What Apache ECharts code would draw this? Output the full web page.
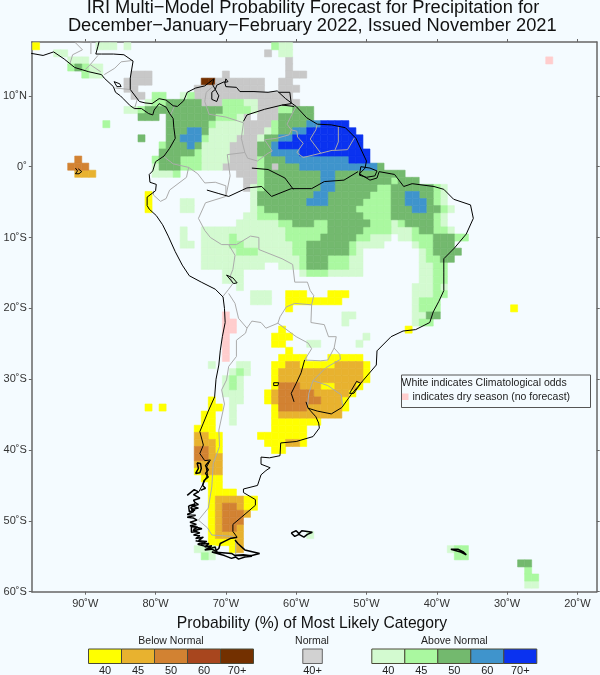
<!DOCTYPE html>
<html>
<head>
<meta charset="utf-8">
<style>
  html, body { margin: 0; padding: 0; background: #f4fbff; }
  #chart { width: 600px; height: 675px; }
</style>
<script src="https://cdn.jsdelivr.net/npm/echarts@6/dist/echarts.min.js"></script>
</head>
<body>
<div id="chart"></div>
<script>
// forecast cells, one run per row: [lat, west lon, east lon], 1 degree grid
const below40 = [[17,-97,-97],[-4,-81,-81],[-5,-81,-81],[-6,-81,-81],[-18,-61,-59],[-18,-55,-53],[-19,-61,-54],[-20,-61,-61],[-20,-29,-29],
  [-23,-62,-62],[-23,-44,-44],[-24,-63,-61],[-25,-63,-62],[-26,-61,-61],[-27,-62,-59],[-27,-55,-51],[-28,-63,-62],[-28,-59,-55],[-28,-50,-50],
  [-29,-63,-63],[-29,-50,-50],[-30,-63,-63],[-30,-50,-50],[-31,-63,-63],[-31,-56,-55],[-31,-51,-51],[-32,-64,-64],[-32,-52,-52],
  [-33,-72,-72],[-33,-64,-64],[-33,-53,-53],[-34,-81,-81],[-34,-79,-79],[-34,-72,-71],[-34,-63,-63],[-34,-53,-53],[-35,-73,-72],[-35,-63,-63],
  [-36,-73,-72],[-36,-63,-57],[-37,-74,-72],[-37,-63,-59],[-38,-72,-71],[-38,-65,-59],[-39,-71,-71],[-39,-64,-62],[-39,-59,-59],
  [-40,-71,-71],[-40,-63,-62],[-43,-74,-74],[-44,-73,-71],[-45,-72,-71],[-46,-72,-69],[-47,-72,-72],[-47,-67,-66],[-48,-72,-72],[-48,-67,-66],
  [-49,-72,-72],[-50,-72,-72],[-51,-72,-72],[-52,-72,-72],[-53,-72,-69],[-54,-69,-69]];
const below45 = [[-1,-91,-89],[-28,-61,-60],[-28,-54,-51],[-29,-62,-51],[-30,-62,-51],[-31,-59,-57],[-31,-54,-52],[-32,-63,-63],[-32,-57,-53],
  [-33,-63,-63],[-33,-56,-54],[-34,-58,-54],[-35,-62,-54],[-38,-74,-73],[-39,-74,-72],[-39,-61,-60],[-40,-72,-72],[-41,-72,-71],[-42,-74,-71],
  [-43,-73,-71],[-47,-71,-68],[-48,-71,-71],[-48,-68,-68],[-49,-71,-71],[-49,-67,-67],[-50,-71,-71],[-51,-71,-71],[-51,-68,-68],[-52,-71,-68],
  [-53,-68,-68],[-54,-68,-68]];
const below50 = [[1,-91,-91],[0,-92,-90],[-31,-62,-60],[-32,-62,-58],[-33,-62,-57],[-34,-62,-59],[-40,-74,-73],[-41,-74,-73],[-48,-70,-69],
  [-49,-70,-68],[-50,-70,-68],[-51,-70,-69]];
const below70 = [[12,-73,-72]];
const normal40 = [[16,-64,-64],[15,-61,-61],[14,-61,-61],[13,-83,-81],[13,-70,-70],[13,-61,-59],[12,-84,-81],[12,-71,-65],[12,-62,-61],
  [11,-84,-83],[11,-74,-65],[11,-62,-60],[10,-83,-82],[10,-74,-61],[9,-73,-71],[9,-65,-60],[8,-65,-63],[7,-67,-67],[7,-65,-63],[6,-67,-64],
  [5,-67,-65],[4,-68,-66],[3,-69,-66],[2,-69,-66],[1,-69,-66],[0,-70,-66],[0,-63,-63],[-1,-68,-66],[-2,-67,-66],[-3,-67,-67]];
const above40 = [[17,-88,-86],[17,-84,-84],[17,-62,-61],[16,-94,-93],[16,-62,-61],[15,-92,-90],[14,-89,-88],[13,-89,-88],[10,-76,-76],
  [9,-81,-81],[9,-67,-66],[8,-84,-83],[8,-66,-66],[7,-68,-68],[6,-71,-68],[5,-72,-68],[5,-64,-64],[4,-72,-69],[4,-65,-65],[3,-73,-70],[2,-73,-70],
  [1,-73,-70],[0,-80,-80],[0,-73,-71],[-1,-80,-78],[-3,-66,-66],[-3,-39,-39],[-4,-66,-66],[-4,-39,-39],[-5,-76,-75],[-5,-66,-66],[-5,-39,-39],
  [-6,-76,-75],[-6,-66,-66],[-6,-38,-38],[-7,-67,-66],[-7,-39,-39],[-8,-68,-63],[-8,-46,-46],[-8,-39,-39],[-9,-76,-76],[-9,-73,-62],[-9,-46,-44],[-9,-38,-38],
  [-10,-76,-76],[-10,-73,-70],[-10,-68,-62],[-10,-49,-47],[-10,-45,-44],[-11,-76,-75],[-11,-73,-70],[-11,-67,-61],[-11,-51,-48],[-11,-43,-43],
  [-12,-73,-69],[-12,-65,-61],[-12,-51,-51],[-12,-42,-42],[-13,-73,-60],[-13,-52,-51],[-13,-42,-42],[-14,-73,-65],[-14,-62,-60],[-14,-52,-51],[-14,-42,-41],
  [-15,-70,-68],[-15,-59,-59],[-15,-55,-51],[-15,-42,-41],[-16,-70,-68],[-16,-42,-41],[-17,-68,-68],[-17,-43,-41],[-17,-39,-39],[-18,-66,-64],[-18,-43,-41],
  [-19,-66,-64],[-19,-43,-43],[-20,-43,-43],[-21,-53,-52],[-21,-43,-42],[-22,-53,-53],[-22,-43,-43],[-24,-50,-50],[-25,-58,-57],[-25,-51,-51],
  [-28,-72,-72],[-28,-68,-67],[-29,-69,-69],[-29,-67,-67],[-30,-70,-70],[-30,-68,-68],[-31,-70,-70],[-31,-68,-68],[-32,-70,-68],[-33,-69,-68],
  [-34,-69,-69],[-35,-69,-69],[-36,-69,-69],[-52,-58,-58],[-54,-74,-72],[-54,-38,-38],[-55,-72,-72],[-59,-27,-26]];
const above45 = [[17,-63,-63],[14,-92,-92],[14,-90,-90],[13,-90,-90],[10,-80,-79],[10,-75,-75],[9,-80,-79],[9,-70,-68],[8,-82,-82],[8,-70,-67],[8,-62,-61],
  [7,-71,-69],[6,-87,-87],[6,-72,-72],[6,-63,-63],[5,-63,-63],[4,-73,-73],[3,-79,-79],[2,-74,-74],[1,-80,-80],[1,-76,-74],[1,-65,-65],[0,-76,-74],[0,-65,-65],
  [-1,-77,-77],[-1,-65,-65],[-2,-65,-65],[-2,-46,-46],[-3,-65,-65],[-3,-48,-47],[-3,-40,-40],[-4,-49,-47],[-4,-40,-40],[-5,-50,-47],[-5,-40,-40],
  [-6,-65,-65],[-6,-51,-47],[-6,-39,-39],[-7,-65,-63],[-7,-50,-47],[-7,-40,-40],[-8,-62,-61],[-8,-57,-56],[-8,-49,-47],[-8,-45,-45],[-8,-40,-40],
  [-9,-61,-56],[-9,-50,-47],[-9,-43,-43],[-9,-40,-39],[-10,-69,-69],[-10,-61,-57],[-10,-51,-50],[-10,-43,-41],[-10,-37,-36],[-11,-69,-68],[-11,-60,-59],[-11,-52,-52],[-11,-42,-41],
  [-12,-68,-66],[-12,-60,-59],[-12,-52,-52],[-12,-41,-41],[-13,-59,-59],[-13,-55,-53],[-13,-41,-40],[-14,-59,-59],[-14,-55,-53],[-14,-40,-39],
  [-15,-58,-56],[-15,-40,-39],[-16,-40,-39],[-17,-40,-40],[-18,-40,-39],[-19,-42,-40],[-20,-42,-40],[-22,-42,-41],[-29,-68,-68],[-30,-69,-69],[-31,-69,-69],
  [-54,-37,-36],[-55,-73,-73],[-55,-37,-36],[-57,-27,-27],[-58,-27,-26]];
const above50 = [[14,-91,-91],[9,-78,-74],[8,-81,-71],[8,-60,-58],[7,-82,-80],[7,-78,-72],[7,-62,-58],[6,-78,-73],[6,-62,-59],[5,-78,-76],[5,-73,-73],[5,-62,-61],
  [4,-82,-82],[4,-78,-77],[4,-64,-63],[3,-78,-76],[3,-74,-74],[3,-65,-64],[2,-79,-75],[2,-65,-64],[1,-79,-77],[1,-64,-62],[0,-79,-77],[0,-64,-64],[0,-62,-60],[0,-48,-48],
  [-1,-64,-57],[-1,-54,-45],[-2,-64,-57],[-2,-54,-47],[-2,-45,-43],[-3,-64,-57],[-3,-54,-49],[-3,-46,-41],[-4,-65,-58],[-4,-55,-50],[-4,-46,-45],[-4,-42,-41],
  [-5,-65,-59],[-5,-55,-51],[-5,-46,-45],[-5,-41,-41],[-6,-64,-52],[-6,-46,-44],[-6,-41,-40],[-7,-62,-51],[-7,-46,-41],[-8,-60,-58],[-8,-55,-50],[-8,-44,-41],
  [-9,-55,-51],[-9,-42,-41],[-10,-56,-52],[-10,-40,-38],[-11,-58,-53],[-11,-40,-38],[-12,-58,-53],[-12,-40,-37],[-13,-58,-56],[-13,-39,-38],[-14,-58,-56],
  [-21,-41,-40],[-56,-28,-27]];
const above60 = [[6,-58,-57],[5,-75,-74],[5,-60,-59],[4,-76,-74],[4,-62,-61],[3,-75,-75],[3,-63,-63],[2,-63,-60],[1,-61,-53],[0,-59,-49],[-1,-56,-55],[-2,-56,-55],[-3,-56,-55],
  [-4,-57,-56],[-4,-44,-43],[-5,-58,-56],[-5,-44,-42],[-6,-43,-42]];
const above70 = [[6,-56,-53],[5,-58,-52],[4,-60,-51],[3,-62,-51],[2,-59,-50],[1,-52,-50]];
const dryCells = [[15,-24,-24],[-21,-70,-70],[-22,-70,-69],[-23,-70,-69],[-24,-70,-70],[-25,-70,-70],[-26,-70,-70],[-27,-70,-70]];

const levelRuns = [below40, below45, below50, below70, normal40, above40, above45, above50, above60, above70, dryCells];
const levelColors = ['#ffff00', '#e8b22f', '#d28232', '#733000', '#c8c8c8', '#d3fad0', '#aaf8a0', '#73b96e', '#3f94cc', '#0a32f0', '#ffcdcd'];

// coast, rivers and lakes (black), lon/lat
const coastLines = [
  [[-97.7,16],[-96,15.7],[-94.5,16.2],[-93,15.2],[-91.5,14],[-89.5,13.4],[-87.7,13],[-87.3,12.5],[-86,11.3],[-85.7,10.5],[-85,10],[-84.6,9.6],[-83.6,8.6],[-83,8.2],[-82,8.2],[-81,7.5],[-80.4,7.3],[-80.2,8],[-79.5,8.9],[-78.5,8.4],[-78,7.5],[-77.5,6.8],[-77.4,5.5],[-77.2,4],[-78,2.6],[-78.8,1.5],[-80,0.7],[-80.4,-0.6],[-80.9,-1.1],[-80.8,-2.2],[-79.9,-2.5],[-80,-3.4],[-81.2,-4.3],[-81.2,-5.5],[-80.9,-6],[-79.9,-6.9],[-79,-8.2],[-78.2,-9.8],[-77.2,-12],[-76.2,-13.9],[-75.2,-15.4],[-73.5,-16.3],[-71.5,-17.3],[-70.4,-18.4],[-70.2,-20],[-70.1,-22],[-70.5,-24],[-70.8,-26],[-71,-28],[-71.4,-30],[-71.6,-32.5],[-72.5,-34.5],[-73.2,-36.2],[-73.7,-37.4],[-73.2,-39.3],[-73.7,-40.5],[-73,-41.5],[-72.2,-41.4],[-72.8,-42.5],[-72.6,-43.5],[-73.2,-44.7],[-73.9,-46]],
  [[-68.4,-52.3],[-69,-51.5],[-69,-50.5],[-67.8,-49.5],[-65.8,-47.8],[-65.8,-47],[-67.5,-46],[-67.5,-45.5],[-65.5,-45],[-65,-43.5],[-64.3,-42.9],[-63.7,-42.5],[-65,-42],[-65,-41],[-63.8,-41.1],[-62.3,-40.8],[-62.2,-39],[-60,-38.8],[-57.6,-38.1],[-56.7,-36.9],[-56.8,-36.2],[-57.2,-35.3],[-58.3,-34.1],[-57,-34.5],[-55,-34.9],[-53.5,-34],[-52.2,-32.2],[-50.5,-30.2],[-48.6,-28],[-48.5,-26],[-46.5,-24],[-44.8,-23.2],[-43,-23],[-41,-22],[-40.5,-20.5],[-39.7,-19],[-39,-17.5],[-39,-15],[-39,-13],[-37.5,-11.5],[-35.8,-9.5],[-34.8,-7.3],[-35.2,-5.4],[-37.6,-4.6],[-39,-3.2],[-40.4,-2.8],[-43.5,-2.4],[-44.7,-2.8],[-46,-1.1],[-48.2,-0.7],[-48.5,-1.6],[-49.5,-1.9],[-51,-1],[-50.2,-0.2],[-50,0.8],[-51.5,4],[-53,5.5],[-55,5.9],[-57,6],[-58.5,6.9],[-60,8.5],[-61.5,9.6],[-62.7,10.7],[-64,10.5],[-66,10.6],[-68,10.6],[-68.5,11.2],[-70,11.3],[-70.2,12],[-71.3,11.5],[-71.5,10.9],[-71.9,11.6],[-71.7,12.4],[-73,11.4],[-74.3,11.1],[-75.5,10.5],[-76,9.3],[-76.9,8.5],[-77.5,8.6],[-78.5,9.4],[-79.5,9.6],[-80.5,8.9],[-81.5,9],[-82.3,9.2],[-83.6,10.9],[-83.6,12.5],[-83.2,14.9],[-84.5,15.8],[-86,15.9],[-87.7,15.9],[-88.5,15.9],[-88.2,17],[-88,17.8]],
  [[-50.8,0],[-49.5,-0.2],[-48.5,-0.6],[-48.8,-1.3],[-50,-1.5],[-51,-1.2],[-50.8,0]],
  // Amazon and Rio Negro
  [[-72.7,-3.3],[-71,-3.8],[-69.6,-4.2],[-67,-3],[-64.9,-2.8],[-63.5,-4.2],[-60.7,-3.1],[-57.8,-3.1],[-56,-2.1],[-53.2,-1.9],[-51.2,-0.7]],
  [[-66.3,-0.2],[-64,-0.4],[-61.6,-1.6],[-60.4,-3.2]],
  // Orinoco
  [[-67.5,6.4],[-67,7.3],[-64.5,8.1],[-62,8.7],[-60.3,8.5]],
  // Parana and Plata side
  [[-58.8,-27.3],[-59.3,-29.1],[-60,-30.6],[-60.7,-32],[-60.3,-33.2]],
  [[-58.6,-33.2],[-58.3,-34.1]],
  [[-51.4,-30.3],[-50.8,-30.6],[-51.8,-32],[-52.4,-32],[-51.4,-30.3]],
  // lakes and small islands
  [[-71.5,10.9],[-72,10.5],[-72,9.5],[-71.3,9.2],[-71,10],[-71.5,10.9]],
  [[-85.9,12],[-85.1,11.7],[-84.9,11.3],[-85.5,11.3],[-85.9,12]],
  [[-69.9,-15.3],[-69,-15.7],[-68.4,-16.4],[-68.9,-16.5],[-69.9,-15.3]],
  [[-63.2,-30.5],[-62.5,-30.5],[-62.6,-30.9],[-63.2,-30.9],[-63.2,-30.5]],
  [[-91.4,-0.2],[-91.1,-0.6],[-91.4,-1],[-90.9,-1],[-90.5,-0.7],[-91,-0.3]],
  [[-70,12.4],[-69.7,12],[-70.1,11.9],[-70,12.4]],
  [[-62.5,10.5],[-60.9,10.5],[-60.7,8.9],[-62,8.7]]
];

// broken southern coast and islands, drawn heavier
const fjordLines = [
  [[-74.1,-41.8],[-73.6,-41.9],[-73.5,-42.6],[-73.7,-43.2],[-74.3,-43.3],[-73.9,-42.6],[-74.1,-41.8]],
  [[-72.4,-41.6],[-72.9,-42.2],[-72.5,-42.8],[-72.9,-43.3],[-72.5,-43.8],[-73.1,-44.3],[-73.3,-45],[-72.9,-45.4],[-73.6,-45.7]],
  [[-75.5,-46.4],[-74.5,-45.6],[-73.9,-45.9],[-74.6,-46.3],[-73.7,-46.8],[-74.6,-47.1],[-74.4,-47.4],[-73.9,-47.7],[-74.8,-47.9],[-73.9,-48.2],[-74.9,-48.4],[-74.6,-48.7],[-75.5,-49.1],[-74.3,-49.2],[-75.5,-49.5],[-74.6,-49.6],[-74.1,-49.9],[-75.1,-50.2],[-74.2,-50.5],[-75.1,-50.7],[-74.2,-50.9],[-73.4,-51.1],[-74.7,-51.4],[-73.7,-51.7],[-74.6,-52],[-73.7,-52.1],[-74.3,-52.5],[-73.2,-52.3],[-73.9,-52.8],[-72.7,-52.9],[-73.6,-53.3],[-72.4,-53.2],[-73,-53.7],[-72,-53.5],[-72.6,-54],[-71.5,-53.7],[-71.4,-54.2],[-71,-53.9],[-70.8,-53.2],[-70.2,-52.9],[-69.4,-52.5],[-68.4,-52.3]],
  [[-75.3,-47.9],[-74.4,-47.6],[-75,-48.2],[-74.4,-48.5],[-75.2,-48.7],[-75.3,-47.9]],
  [[-74.9,-50.8],[-74,-50.9],[-74.6,-51.2],[-74.1,-51.5],[-74.9,-51.6],[-74.9,-50.8]],
  [[-74.3,-52.8],[-73.3,-53],[-74,-53.3],[-72.9,-53.6],[-72.2,-53.7],[-73,-54.1],[-72,-54],[-71.2,-54.4]],
  [[-72,-54.4],[-70.5,-54.5],[-69.2,-54.6],[-68.7,-54.9],[-67.5,-54.8],[-66.3,-55],[-67.3,-55.1],[-68.2,-55.4],[-68.6,-55.1],[-69.2,-55.3],[-70.2,-54.9],[-72,-54.4]],
  [[-68.7,-52.7],[-68.3,-53.2],[-67.3,-54.1],[-65.2,-54.6],[-66.3,-54.9],[-68.6,-54.9]],
  [[-60.7,-51.7],[-60,-51.4],[-59.6,-51.8],[-59.2,-51.4],[-58.4,-51.5],[-57.7,-51.6],[-58.4,-51.9],[-58.9,-52.3],[-59.6,-51.9],[-60.2,-52.2],[-60.7,-51.7]],
  [[-38,-54],[-37,-54],[-36.2,-54.4],[-35.8,-54.8],[-36.6,-54.4],[-38,-54]]
];

// country borders (gray), lon/lat
const borderLines = [
  [[-92.2,14.5],[-91.8,15.8],[-90.4,16.5],[-91.4,17.5],[-89.2,17.8],[-89.2,15.9]],
  [[-88.2,15.7],[-89.3,14.4],[-90,13.7]],
  [[-89.3,14.4],[-87.8,13.4]],
  [[-87.3,13],[-85.8,13.9],[-84.9,14.8],[-83.2,15]],
  [[-85.7,11.1],[-83.7,10.9]],
  [[-83,8.2],[-82.6,9.5]],
  [[-77.9,7.2],[-77.3,8.6]],
  [[-78.8,1.4],[-77.5,0.4],[-75.3,-0.1],[-75.6,-1.5],[-78,-3.3],[-78.5,-4.5],[-79.3,-4.9],[-80.3,-4],[-80.3,-3.4]],
  [[-75.3,-0.1],[-74,-1],[-73,-2.3],[-71.5,-2.2],[-70,-2.7],[-70,-4.2],[-69.4,-1.3],[-69.8,1.7],[-67.3,2],[-66.9,1.2],[-65.5,0.8],[-64,1.9],[-63.4,2.2],[-64.5,3.8],[-62.8,4],[-61,4.5],[-60.7,5.2],[-61.3,6],[-60.8,7],[-60,8.5]],
  [[-71.3,11.8],[-72.8,10.5],[-73,9.2],[-72.4,7.4],[-70,7],[-67.5,6.2],[-67.8,4],[-67.3,2]],
  [[-60.7,5.2],[-59.9,5],[-59.8,4.2],[-59,3.3],[-59.9,2],[-59,1.3],[-56.5,1.9],[-58,3.9],[-57.2,5.2],[-57,6]],
  [[-56.5,1.9],[-54.9,2.3],[-54.5,2.3],[-52.7,2.4],[-51.7,4.1]],
  [[-54.5,2.3],[-54,3.5],[-54,5.7]],
  [[-70,-4.2],[-72.9,-5.1],[-73.9,-7.3],[-73,-9],[-72.2,-10],[-70.6,-11],[-69.6,-11],[-68.7,-12.5],[-69,-14.5],[-69.4,-15.5],[-69,-16.5],[-69.6,-17.3],[-70.4,-18.3]],
  [[-69.6,-11],[-68.5,-11],[-66.5,-9.8],[-65.3,-10],[-65.3,-11.7],[-62,-13],[-60.5,-13.8],[-60.2,-16.3],[-58.4,-16.3],[-58,-17.5],[-57.5,-18.2],[-57.8,-19.5]],
  [[-57.8,-19.5],[-60.2,-19.3],[-61.4,-19.8],[-62.3,-21.2],[-62.6,-22.1],[-64.3,-22.8],[-65,-22],[-66.3,-21.8],[-67,-22.8],[-67.2,-23.5],[-68.5,-24.5],[-68.5,-26.8],[-69.6,-28.2],[-69.9,-30.1],[-70.6,-31.5],[-70.2,-33.5],[-71,-37.2],[-70.9,-39.5],[-71.8,-41.9],[-72,-45.2],[-72.5,-48.2],[-73.9,-49.9],[-72.6,-51],[-72,-52],[-69,-52.2]],
  [[-69.6,-17.9],[-68.7,-19.3],[-68.2,-21.4],[-67,-22.8]],
  [[-62.6,-22.1],[-60,-24],[-58.3,-24.9],[-57.8,-25.7],[-58.8,-27.3],[-56.5,-27.4],[-55.5,-27.3],[-54.6,-25.6],[-54.3,-24],[-55.4,-24],[-56,-22.3],[-57.9,-22],[-57.8,-19.5]],
  [[-54.6,-25.6],[-53.8,-26.5],[-53.7,-27.2],[-55.8,-28.4],[-57.6,-30.2],[-55.5,-30.9],[-53.6,-32.2],[-53.4,-33.7]],
  [[-57.6,-30.2],[-58.2,-32],[-58.4,-34]],
  [[-68.6,-52.6],[-68.6,-54.9]]
];

const xTicks = [-90, -80, -70, -60, -50, -40, -30, -20];
const yTicks = [10, 0, -10, -20, -30, -40, -50, -60];
const belowLabels = ['40', '45', '50', '60', '70+'];
const aboveLabels = ['40', '45', '50', '60', '70+'];
const belowColors = ['#ffff00', '#e8b22f', '#d28232', '#a8461e', '#733000'];
const aboveColors = ['#d3fad0', '#aaf8a0', '#73b96e', '#3f94cc', '#0a32f0'];

const font = '"Liberation Sans", Arial, sans-serif';

const cells = [];
levelRuns.forEach((runs, level) => {
  runs.forEach(([lat, west, east]) => {
    for (let lon = west; lon <= east; lon++) cells.push([lon, lat, level]);
  });
});

function lonLabel(v) { return Math.abs(v) + '˚W'; }
function latLabel(v) { return v === 0 ? '0˚' : Math.abs(v) + (v > 0 ? '˚N' : '˚S'); }

function lineSeries(lines, color, width, z) {
  return lines.map(line => ({
    type: 'line', data: line, showSymbol: false, silent: true, animation: false,
    xAxisIndex: 0, yAxisIndex: 0, z: z, clip: true,
    lineStyle: { color: color, width: width }
  }));
}

// colour bar drawn as legend, x/y in page pixels
function colorBar(left, colors, labels, title) {
  const w = 33, top = 649, h = 14.5, out = [];
  colors.forEach((c, i) => {
    out.push({ type: 'rect', shape: { x: left + i * w, y: top, width: w, height: h },
      style: { fill: c, stroke: '#4a4a38', lineWidth: 1 } });
    out.push({ type: 'text', x: left + (i + 0.5) * w, y: 671,
      style: { text: labels[i], font: '11px ' + font, fill: '#222', align: 'center', verticalAlign: 'middle' } });
  });
  out.push({ type: 'text', x: left + 2.5 * w, y: 641,
    style: { text: title, font: '10.5px ' + font, fill: '#222', align: 'center', verticalAlign: 'middle' } });
  return out;
}

const graphics = [
  { type: 'text', x: 313, y: 8, style: { text: 'IRI Multi−Model Probability Forecast for Precipitation for', font: '18.3px ' + font, fill: '#111', align: 'center', verticalAlign: 'middle' } },
  { type: 'text', x: 312.3, y: 25.5, style: { text: 'December−January−February 2022, Issued November 2021', font: '18.3px ' + font, fill: '#111', align: 'center', verticalAlign: 'middle' } },
  { type: 'text', x: 312, y: 623.5, style: { text: 'Probability (%) of Most Likely Category', font: '15.7px ' + font, fill: '#111', align: 'center', verticalAlign: 'middle' } },
  { type: 'rect', z: 10, shape: { x: 401.5, y: 375, width: 189, height: 32.5 }, style: { fill: '#f4fbff', stroke: '#555', lineWidth: 1 } },
  { type: 'text', z: 11, x: 401.5, y: 383.5, style: { text: 'White indicates Climatological odds', font: '10.5px ' + font, fill: '#222', align: 'left', verticalAlign: 'middle' } },
  { type: 'rect', z: 11, shape: { x: 402, y: 393.5, width: 6.5, height: 6.5 }, style: { fill: '#ffcdcd' } },
  { type: 'text', z: 11, x: 412.5, y: 396.8, style: { text: 'indicates dry season (no forecast)', font: '10.5px ' + font, fill: '#222', align: 'left', verticalAlign: 'middle' } },
  { type: 'rect', shape: { x: 302.8, y: 649, width: 19.5, height: 14.5 }, style: { fill: '#d2d2d2', stroke: '#666', lineWidth: 1 } },
  { type: 'text', x: 312, y: 641, style: { text: 'Normal', font: '10.5px ' + font, fill: '#222', align: 'center', verticalAlign: 'middle' } },
  { type: 'text', x: 312.5, y: 671, style: { text: '40+', font: '11px ' + font, fill: '#222', align: 'center', verticalAlign: 'middle' } }
].concat(colorBar(88.5, belowColors, belowLabels, 'Below Normal'), colorBar(371.8, aboveColors, aboveLabels, 'Above Normal'));

const xBase = {
  type: 'value', min: -97.6, max: -17.25, splitLine: { show: false },
  axisLine: { show: true, onZero: false, lineStyle: { color: '#666', width: 1.5 } },
  axisTick: { show: true, length: 3, customValues: xTicks, lineStyle: { color: '#666', width: 1 } }
};
const yBase = {
  type: 'value', min: -60, max: 17.6, splitLine: { show: false },
  axisLine: { show: true, onZero: false, lineStyle: { color: '#666', width: 1.5 } },
  axisTick: { show: true, length: 3, customValues: yTicks, lineStyle: { color: '#666', width: 1 } }
};

const chart = echarts.init(document.getElementById('chart'));
chart.setOption({
  backgroundColor: '#f4fbff',
  animation: false,
  grid: { left: 28.7, top: 42, width: 568, height: 549.7 },
  xAxis: [
    Object.assign({}, xBase, { position: 'bottom', axisLabel: { customValues: xTicks, formatter: lonLabel, margin: 7, fontSize: 11, color: '#333', fontFamily: font } }),
    Object.assign({}, xBase, { position: 'top', axisLabel: { show: false } })
  ],
  yAxis: [
    Object.assign({}, yBase, { position: 'left', axisLabel: { customValues: yTicks, formatter: latLabel, margin: 5, fontSize: 11, color: '#333', fontFamily: font } }),
    Object.assign({}, yBase, { position: 'right', axisLabel: { show: false } })
  ],
  series: [{
    type: 'custom',
    data: cells,
    silent: true,
    z: 1,
    renderItem: function (params, api) {
      const color = levelColors[api.value(2)];
      const a = api.coord([api.value(0) - 0.5, api.value(1) + 0.5]);
      const b = api.coord([api.value(0) + 0.5, api.value(1) - 0.5]);
      return { type: 'rect', shape: { x: a[0], y: a[1], width: b[0] - a[0], height: b[1] - a[1] },
        style: { fill: color, stroke: color, lineWidth: 0.6 } };
    }
  }].concat(lineSeries(borderLines, '#ababab', 1, 2), lineSeries(coastLines, '#000', 1, 3), lineSeries(fjordLines, '#000', 1.5, 3)),
  graphic: graphics
});
</script>
</body>
</html>
